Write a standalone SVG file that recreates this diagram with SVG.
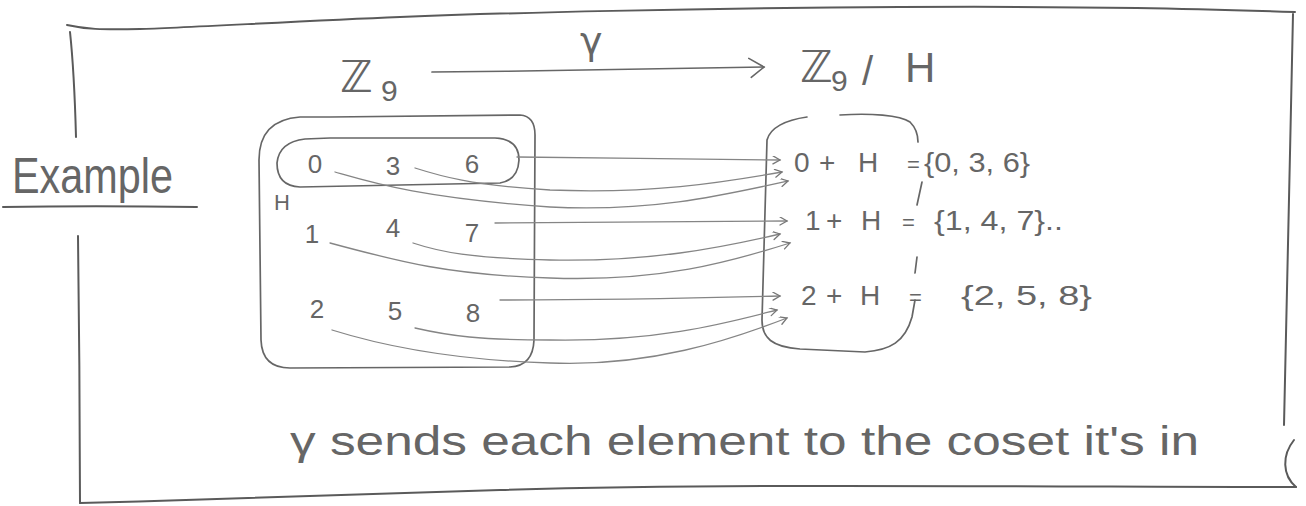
<svg xmlns="http://www.w3.org/2000/svg" width="1306" height="506" viewBox="0 0 1306 506">
<style>
.ink{fill:none;stroke:#666;stroke-width:1.7;stroke-linecap:round;stroke-linejoin:round}
.frame{fill:none;stroke:#5a5a5a;stroke-width:2;stroke-linecap:round}
.arr{fill:none;stroke:#858585;stroke-width:1.3;stroke-linecap:round}
.t{font-family:"Liberation Sans","DejaVu Sans",sans-serif;fill:#666}
.z{font-family:"DejaVu Sans",sans-serif;fill:#666}
</style>
<defs>
<marker id="ah" markerWidth="12" markerHeight="12" refX="8" refY="4" orient="auto" markerUnits="userSpaceOnUse">
<path d="M1,0 L8,4 L1,8" fill="none" stroke="#777" stroke-width="1.3" stroke-linecap="round"/>
</marker>
<marker id="ahBig" markerWidth="24" markerHeight="24" refX="16" refY="12" orient="auto" markerUnits="userSpaceOnUse">
<path d="M1,3 L16,12 L3,22" fill="none" stroke="#666" stroke-width="1.6" stroke-linecap="round"/>
</marker>
</defs>

<g id="frame">
<path class="frame" d="M67,25 C85,29 100,30 140,29 S300,21 400,17 S700,8 900,7 S1200,9 1295,12"/>
<path class="frame" d="M70,32 C73,60 75,100 76,137"/>
<path class="frame" d="M78,236 C79,320 80,420 80,503"/>
<path class="frame" d="M80,503 C200,500 300,496 500,490 S900,486 1296,487"/>
<path class="frame" d="M1293,14 C1290,150 1287,300 1284,425"/>
<path class="frame" d="M1294,440 C1282,455 1282,475 1296,487"/>
<path class="frame" d="M3,207 C60,206 130,206 197,207"/>
<text class="t" x="12" y="193" font-size="50" textLength="161" lengthAdjust="spacingAndGlyphs">Example</text>
</g>

<g id="title">
<text class="z" x="340" y="92" font-size="44">ℤ</text>
<text class="t" x="381" y="101" font-size="30">9</text>
<text class="z" x="580" y="54" font-size="38">γ</text>
<path class="ink" d="M432,72 C550,71 680,69 764,67" marker-end="url(#ahBig)"/>
<text class="z" x="800" y="82" font-size="44">ℤ</text>
<text class="t" x="831" y="91" font-size="30">9</text>
<text class="t" x="862" y="85" font-size="40">/</text>
<text class="t" x="905" y="82" font-size="42">H</text>
</g>

<g id="domain">
<path class="ink" d="M330,117 L520,115 Q535,116 535,135 L534,340 Q533,366 510,367 L290,368 Q262,368 261,340 L259,160 Q259,120 300,117 Z"/>
<path class="ink" d="M330,138 L495,138 Q519,139 519,160 Q518,180 500,183 L300,187 Q277,186 277,163 Q279,142 305,139 Z"/>
<text class="t" x="282" y="210" font-size="22" text-anchor="middle">H</text>
<g class="t" font-size="26" text-anchor="middle">
<text x="315" y="173">0</text>
<text x="393" y="175">3</text>
<text x="472" y="173">6</text>
<text x="312" y="243">1</text>
<text x="393" y="237">4</text>
<text x="472" y="242">7</text>
<text x="317" y="318">2</text>
<text x="395" y="320">5</text>
<text x="473" y="322">8</text>
</g>
</g>

<g id="quotient">
<path class="ink" d="M807,117 C785,120 770,128 767,140 L762,320 C762,338 772,347 800,349 L865,352 C890,350 905,342 912,317 L915,300"/>
<path class="ink" d="M840,115 C870,113 900,115 910,122 C916,128 918,135 918,142"/>
<path class="ink" d="M922,182 L917,205"/>
<path class="ink" d="M917,257 L915,273"/>
<g class="t" font-size="28">
<text y="172"><tspan x="794">0</tspan><tspan x="819">+</tspan><tspan x="858">H</tspan><tspan x="907" font-size="22">=</tspan><tspan x="924" textLength="106" lengthAdjust="spacingAndGlyphs">{0, 3, 6}</tspan></text>
<text y="230"><tspan x="805">1</tspan><tspan x="826">+</tspan><tspan x="861">H</tspan><tspan x="902" font-size="22">=</tspan><tspan x="934" textLength="129" lengthAdjust="spacingAndGlyphs">{1, 4, 7}..</tspan></text>
<text y="305"><tspan x="801">2</tspan><tspan x="826">+</tspan><tspan x="860">H</tspan><tspan x="909" font-size="22">=</tspan><tspan x="961" textLength="131" lengthAdjust="spacingAndGlyphs">{2, 5, 8}</tspan></text>
</g>
</g>

<g id="connectors">
<path class="arr" marker-end="url(#ah)" d="M517,157 C600,158 700,159 780,160"/>
<path class="arr" marker-end="url(#ah)" d="M415,168 C440,176 470,185 550,190 C650,194 720,183 782,172"/>
<path class="arr" marker-end="url(#ah)" d="M335,172 C370,182 420,198 550,207 C650,212 720,196 788,181"/>
<path class="arr" marker-end="url(#ah)" d="M495,223 C600,223 700,221 787,221"/>
<path class="arr" marker-end="url(#ah)" d="M413,243 C440,252 470,258 550,260 C650,262 720,248 780,234"/>
<path class="arr" marker-end="url(#ah)" d="M330,243 C400,262 450,275 550,278 C660,282 730,262 790,243"/>
<path class="arr" marker-end="url(#ah)" d="M500,300 C600,300 700,298 780,296"/>
<path class="arr" marker-end="url(#ah)" d="M415,328 C450,336 480,340 550,340 C660,342 730,322 777,310"/>
<path class="arr" marker-end="url(#ah)" d="M332,330 C380,345 450,360 550,363 C650,367 730,340 787,318"/>
</g>

<g id="caption">
<text class="t" x="290" y="455" font-size="40" textLength="909" lengthAdjust="spacingAndGlyphs">γ sends each element to the coset it's in</text>
</g>
</svg>
